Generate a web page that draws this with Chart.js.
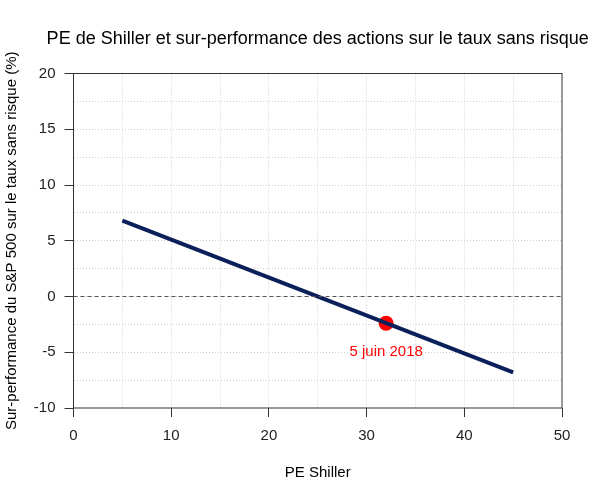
<!DOCTYPE html>
<html>
<head>
<meta charset="utf-8">
<script src="https://cdn.jsdelivr.net/npm/chart.js@4/dist/chart.umd.min.js"></script>
<style>
  html, body { margin: 0; padding: 0; background: #fff; }
  #c { display: block; }
</style>
</head>
<body>
<canvas id="c" width="600" height="500"></canvas>
<script>
// droite de regression PE Shiller -> sur-performance
const lineX = [5, 45];
const lineY = [6.8, -6.8];
// point du 5 juin 2018
const pointX = [32];
const pointY = [-2.4];
const pointText = ['5 juin 2018'];
const labelY = [-5];
// ligne de reference a zero
const zeroX = [0, 50];
const zeroY = [0, 0];

const TITLE = 'PE de Shiller et sur-performance des actions sur le taux sans risque';
const FONT = '"Liberation Sans", Arial, sans-serif';

const toXY = (xs, ys) => xs.map((x, i) => ({ x: x, y: ys[i] }));

// titre centre sur la zone du graphe, cadre complet, etiquette du point
const framePlugin = {
    id: 'frame',
    afterDatasetsDraw(chart) {
        const { ctx, chartArea: a, scales } = chart;
        ctx.save();
        ctx.strokeStyle = '#333';
        ctx.lineWidth = 1;
        ctx.setLineDash([]);
        ctx.strokeRect(a.left, a.top, a.right - a.left, a.bottom - a.top);

        ctx.textAlign = 'center';
        ctx.textBaseline = 'middle';
        ctx.fillStyle = '#000';
        ctx.font = '18px ' + FONT;
        ctx.fillText(TITLE, (a.left + a.right) / 2, 39);

        ctx.fillStyle = '#ff0000';
        ctx.font = '15px ' + FONT;
        pointText.forEach((t, i) => {
            ctx.fillText(t, scales.x.getPixelForValue(pointX[i]), scales.y.getPixelForValue(labelY[i]));
        });
        ctx.restore();
    }
};

const ctx = document.getElementById('c').getContext('2d');

const chart = new Chart(ctx, {
    type: 'line',
    data: {
        datasets: [
            {
                data: toXY(zeroX, zeroY),
                borderColor: '#555',
                borderWidth: 1,
                borderDash: [4, 3],
                pointRadius: 0,
                fill: false,
            },
            {
                data: toXY(lineX, lineY),
                borderColor: '#0b1f5a',
                borderWidth: 4,
                pointRadius: 0,
                fill: false,
            },
            {
                data: toXY(pointX, pointY),
                showLine: false,
                pointRadius: 7.5,
                pointBackgroundColor: '#ff0000',
                pointBorderColor: '#ff0000',
                pointBorderWidth: 0,
            },
        ],
    },
    options: {
        responsive: false,
        animation: false,
        layout: { padding: { left: 0, right: 38, top: 73.5, bottom: 0 } },
        plugins: {
            legend: { display: false },
            tooltip: { enabled: false },
            title: { display: false },
        },
        scales: {
            x: {
                type: 'linear',
                min: 0,
                max: 50,
                afterFit(scale) { scale.height = 92; },
                ticks: {
                    stepSize: 5,
                    color: '#222',
                    font: { family: FONT, size: 15 },
                    padding: 10,
                    maxRotation: 0,
                    callback: (v) => (v % 10 === 0 ? v : ''),
                },
                grid: {
                    color: (c) => (c.tick && (c.tick.value === 0 || c.tick.value === 50) ? 'rgba(0,0,0,0)' : '#d0d0d0'),
                    tickColor: (c) => (c.tick && c.tick.value % 10 === 0 ? '#333' : 'rgba(0,0,0,0)'),
                    tickLength: 9,
                    lineWidth: 1,
                },
                border: { display: false, dash: [1, 2] },
                title: {
                    display: true,
                    text: 'PE Shiller',
                    color: '#000',
                    font: { family: FONT, size: 15 },
                    padding: { top: 0, bottom: 18 },
                },
            },
            y: {
                type: 'linear',
                min: -10,
                max: 20,
                afterFit(scale) { scale.width = 73.5; },
                ticks: {
                    stepSize: 2.5,
                    color: '#222',
                    font: { family: FONT, size: 15 },
                    padding: 9,
                    callback: (v) => (v % 5 === 0 ? v : ''),
                },
                grid: {
                    color: (c) => (c.tick && (c.tick.value === -10 || c.tick.value === 20) ? 'rgba(0,0,0,0)' : '#d0d0d0'),
                    tickColor: (c) => (c.tick && c.tick.value % 5 === 0 ? '#333' : 'rgba(0,0,0,0)'),
                    tickLength: 9,
                    lineWidth: 1,
                },
                border: { display: false, dash: [1, 2] },
                title: {
                    display: true,
                    text: 'Sur-performance du S&P 500 sur le taux sans risque (%)',
                    color: '#000',
                    font: { family: FONT, size: 15 },
                    padding: { top: 3, bottom: 0 },
                },
            },
        },
    },
    plugins: [framePlugin],
});
</script>
</body>
</html>
